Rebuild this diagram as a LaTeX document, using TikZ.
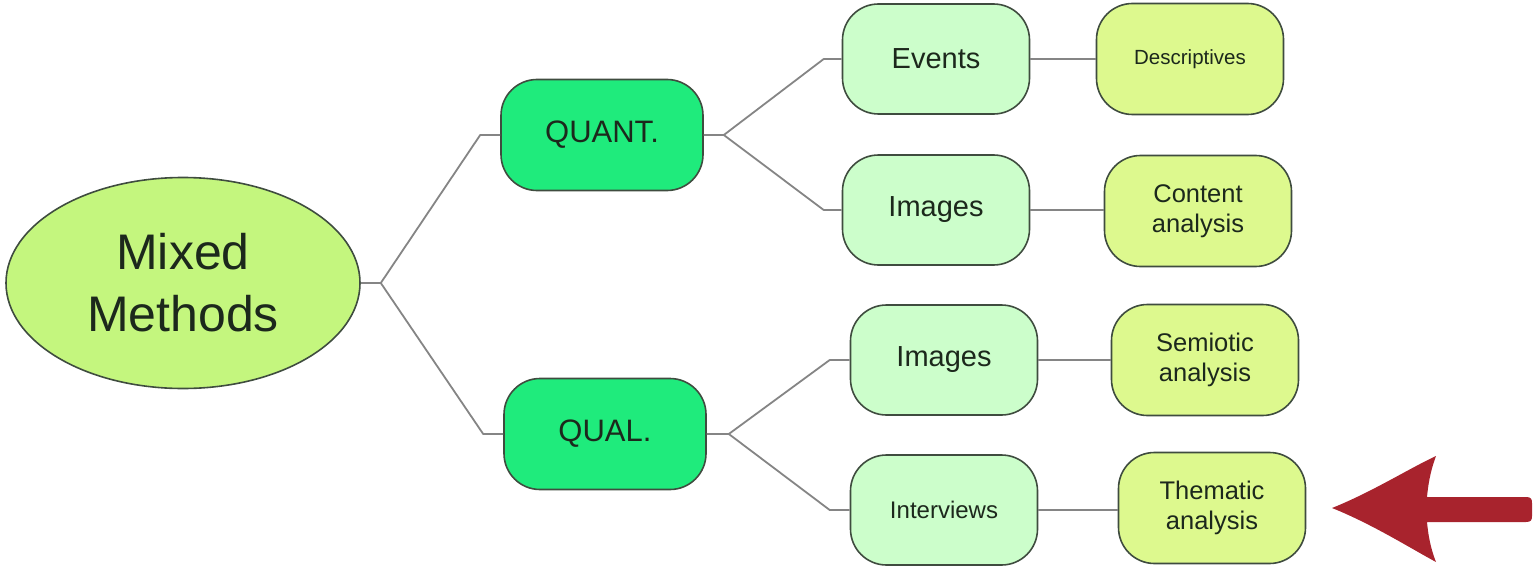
\documentclass[tikz,border=0pt]{standalone}
\usepackage{fontspec}
\setmainfont{Liberation Sans}
\usetikzlibrary{shapes.geometric}
\definecolor{rootfill}{HTML}{C4F67E}
\definecolor{branchfill}{HTML}{1FEB7C}
\definecolor{midfill}{HTML}{CCFECB}
\definecolor{leaffill}{HTML}{DDF98E}
\definecolor{edgeline}{HTML}{3F4C3F}
\definecolor{linkgrey}{HTML}{858585}
\definecolor{inkdark}{HTML}{1C281C}
\definecolor{arrowred}{HTML}{A8232D}
\tikzset{
  box/.style={draw=edgeline, line width=1.6pt, rounded corners=36pt, text=inkdark,
    align=center, inner sep=0pt},
  root/.style={ellipse, draw=edgeline, line width=1.6pt, fill=rootfill, text=inkdark,
    minimum width=354pt, minimum height=211pt, align=center, inner sep=0pt,
    font=\fontsize{50}{62}\selectfont},
  branch/.style={box, fill=branchfill, minimum width=202pt, minimum height=111pt,
    font=\fontsize{31}{36}\selectfont},
  mid/.style={box, fill=midfill, minimum width=187pt, minimum height=110pt},
  leaf/.style={box, fill=leaffill, minimum width=187pt, minimum height=111pt,
    font=\fontsize{25.5}{30}\selectfont},
  link/.style={draw=linkgrey, line width=1.8pt, line join=round}
}
\begin{document}
\begin{tikzpicture}[x=1pt,y=-1pt]
\useasboundingbox (0,0) rectangle (1533,567);

% root
\node[root] (mm) at (183,283) {Mixed\\Methods};

% second level
\node[branch] (quant) at (602,135) {QUANT.};
\node[branch] (qual) at (605,434) {QUAL.};

% third level
\node[mid, font=\fontsize{29}{34}\selectfont] (events) at (936,59) {Events};
\node[mid, font=\fontsize{29}{34}\selectfont] (imgA) at (936,210) {Images};
\node[mid, font=\fontsize{29}{34}\selectfont] (imgB) at (944,360) {Images};
\node[mid, font=\fontsize{24}{28}\selectfont] (interv) at (944,510) {Interviews};

% fourth level
\node[leaf, font=\fontsize{20.5}{24}\selectfont] (desc) at (1190,59) {Descriptives};
\node[leaf] (content) at (1198,211) {Content\\analysis};
\node[leaf] (semio) at (1205,360) {Semiotic\\analysis};
\node[leaf] (thema) at (1212,508) {Thematic\\analysis};

% elbow connectors
\draw[link] (mm.east) -- ++(20,0) -- ([xshift=-20pt]quant.west) -- (quant.west);
\draw[link] (mm.east) -- ++(20,0) -- ([xshift=-20pt]qual.west) -- (qual.west);
\draw[link] (quant.east) -- ++(20,0) -- ([xshift=-18pt]events.west) -- (events.west);
\draw[link] (quant.east) -- ++(20,0) -- ([xshift=-18pt]imgA.west) -- (imgA.west);
\draw[link] (qual.east) -- ++(22,0) -- ([xshift=-20pt]imgB.west) -- (imgB.west);
\draw[link] (qual.east) -- ++(22,0) -- ([xshift=-20pt]interv.west) -- (interv.west);

% straight connectors
\draw[link] (events.east) -- (desc.west |- events.east);
\draw[link] (imgA.east) -- (content.west |- imgA.east);
\draw[link] (imgB.east) -- (semio.west |- imgB.east);
\draw[link] (interv.east) -- (thema.west |- interv.east);

% pointer arrow
\fill[arrowred]
  (1332,508) .. controls (1372,492) and (1410,468) .. (1436,456)
  .. controls (1430,472) and (1428,486) .. (1427,497)
  -- (1526,497) .. controls (1531,497) and (1532,499) .. (1532,503)
  -- (1532,516) .. controls (1532,520) and (1531,522) .. (1526,522)
  -- (1427,522)
  .. controls (1428,533) and (1430,547) .. (1436,562)
  .. controls (1410,548) and (1372,524) .. (1332,508) -- cycle;
\end{tikzpicture}
\end{document}
